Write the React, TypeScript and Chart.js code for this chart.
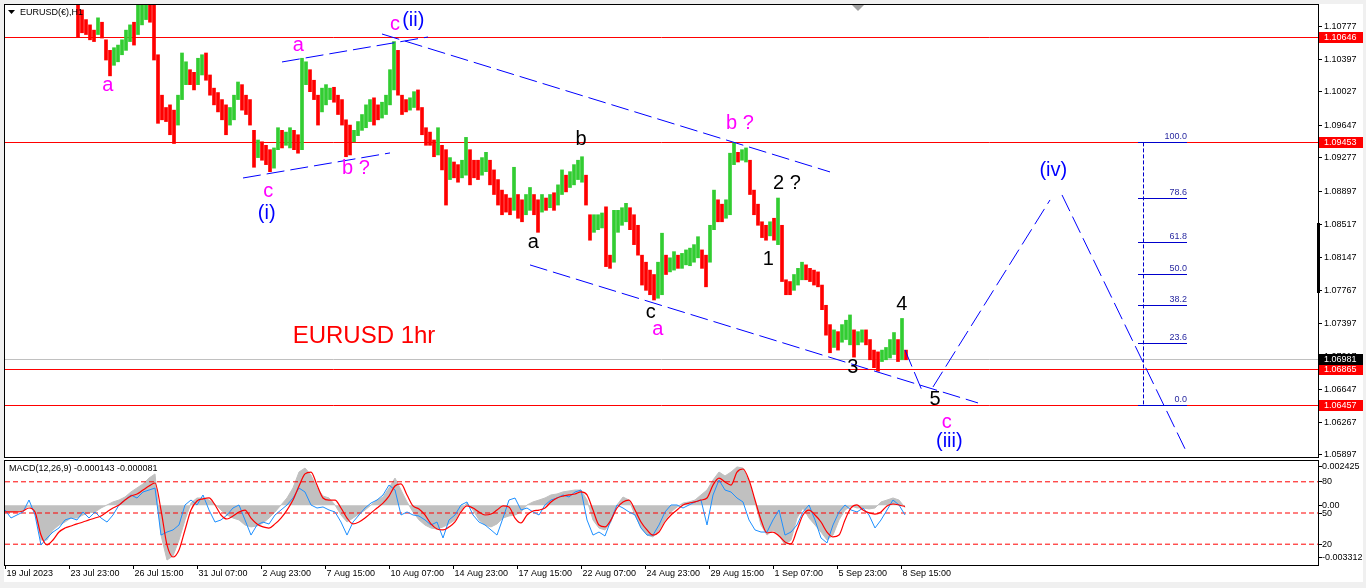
import React, { useEffect, useRef } from 'react';
import { Chart, registerables } from 'chart.js';

Chart.register(...registerables);

// ---------------- data ----------------
// time axis in hours (one hourly bar per hour on the chart)
const X_MAX_HOURS = 1313;
const DATE_TICK_STEP_HOURS = 64;
const DATE_LABELS = [
  '19 Jul 2023', '23 Jul 23:00', '26 Jul 15:00', '31 Jul 07:00', '2 Aug 23:00',
  '7 Aug 15:00', '10 Aug 07:00', '14 Aug 23:00', '17 Aug 15:00', '22 Aug 07:00',
  '24 Aug 23:00', '29 Aug 15:00', '1 Sep 07:00', '5 Sep 23:00', '8 Sep 15:00',
];

// price bars (4-hour steps), high and low
const BAR_START_HOUR = 73;
const BAR_STEP_HOURS = 4;
const BAR_HIGHS = [
  1.1107, 1.1096, 1.1085, 1.1079, 1.1073, 1.1087, 1.1082, 1.1062, 1.1050, 1.1053,
  1.1056, 1.1062, 1.1073, 1.1079, 1.1082, 1.1102, 1.1107, 1.1107, 1.1105, 1.1104,
  1.1045, 1.0999, 1.0985, 1.0988, 1.0982, 1.0999, 1.1047, 1.1037, 1.1028, 1.1025,
  1.1041, 1.1045, 1.1047, 1.1022, 1.1007, 1.1002, 1.0994, 1.0988, 1.0985, 1.0999,
  1.1014, 1.1011, 1.0999, 1.0994, 1.0959, 1.0948, 1.0946, 1.0942, 1.0937, 1.0939,
  1.0962, 1.0959, 1.0957, 1.0962, 1.0959, 1.0954, 1.1041, 1.1037, 1.1028, 1.1016,
  1.0999, 1.1007, 1.1011, 1.1007, 1.1008, 1.0999, 1.0994, 1.0971, 1.0965, 1.0959,
  1.0969, 1.0977, 1.0988, 1.0994, 1.0996, 1.0988, 1.0991, 1.0999, 1.1028, 1.1060,
  1.1050, 1.0999, 1.0994, 1.0996, 1.1003, 1.1005, 1.0985, 1.0962, 1.0957, 1.0948,
  1.0962, 1.0942, 1.0937, 1.0928, 1.0923, 1.0920, 1.0925, 1.0951, 1.0937, 1.0925,
  1.0925, 1.0928, 1.0934, 1.0925, 1.0914, 1.0903, 1.0891, 1.0886, 1.0882, 1.0917,
  1.0886, 1.0880, 1.0886, 1.0894, 1.0886, 1.0880, 1.0886, 1.0882, 1.0886, 1.0888,
  1.0897, 1.0914, 1.0908, 1.0912, 1.0920, 1.0925, 1.0929, 1.0908, 1.0863, 1.0863,
  1.0863, 1.0865, 1.0872, 1.0817, 1.0868, 1.0868, 1.0871, 1.0876, 1.0871, 1.0863,
  1.0851, 1.0817, 1.0809, 1.0800, 1.0795, 1.0809, 1.0842, 1.0817, 1.0814, 1.0821,
  1.0817, 1.0819, 1.0823, 1.0825, 1.0829, 1.0838, 1.0823, 1.0817, 1.0851, 1.0891,
  1.0880, 1.0875, 1.0880, 1.0933, 1.0945, 1.0934, 1.0937, 1.0939, 1.0925, 1.0891,
  1.0875, 1.0855, 1.0851, 1.0855, 1.0859, 1.0882, 1.0851, 1.0789, 1.0787, 1.0795,
  1.0802, 1.0809, 1.0806, 1.0802, 1.0800, 1.0798, 1.0783, 1.0760, 1.0738, 1.0732,
  1.0730, 1.0738, 1.0743, 1.0749, 1.0732, 1.0730, 1.0732, 1.0732, 1.0721, 1.0709,
  1.0707, 1.0709, 1.0712, 1.0721, 1.0729, 1.0721, 1.0745, 1.0709,
];
const BAR_LOWS = [
  1.1065, 1.1070, 1.1068, 1.1062, 1.1060, 1.1068, 1.1064, 1.1039, 1.1021, 1.1033,
  1.1037, 1.1045, 1.1050, 1.1060, 1.1056, 1.1068, 1.1079, 1.1085, 1.1082, 1.1039,
  1.0967, 1.0971, 1.0969, 1.0954, 1.0944, 1.0965, 1.0994, 1.1011, 1.1011, 1.1005,
  1.1011, 1.1022, 1.1016, 1.0999, 1.0988, 1.0980, 1.0971, 1.0954, 1.0965, 1.0971,
  1.0994, 1.0982, 1.0977, 1.0965, 1.0917, 1.0928, 1.0925, 1.0920, 1.0912, 1.0916,
  1.0937, 1.0939, 1.0942, 1.0939, 1.0937, 1.0933, 1.0937, 1.1011, 1.1003, 1.0994,
  1.0965, 1.0980, 1.0988, 1.0994, 1.0991, 1.0977, 1.0965, 1.0929, 1.0931, 1.0946,
  1.0953, 1.0959, 1.0962, 1.0969, 1.0965, 1.0971, 1.0973, 1.0977, 1.0988, 1.1005,
  1.0999, 1.0977, 1.0980, 1.0982, 1.0985, 1.0982, 1.0954, 1.0942, 1.0942, 1.0929,
  1.0931, 1.0914, 1.0874, 1.0903, 1.0905, 1.0900, 1.0905, 1.0908, 1.0897, 1.0905,
  1.0903, 1.0908, 1.0912, 1.0897, 1.0886, 1.0874, 1.0863, 1.0866, 1.0863, 1.0868,
  1.0859, 1.0855, 1.0863, 1.0868, 1.0863, 1.0843, 1.0866, 1.0868, 1.0871, 1.0868,
  1.0874, 1.0886, 1.0889, 1.0894, 1.0897, 1.0903, 1.0900, 1.0874, 1.0834, 1.0843,
  1.0846, 1.0848, 1.0804, 1.0802, 1.0809, 1.0843, 1.0851, 1.0855, 1.0846, 1.0829,
  1.0817, 1.0783, 1.0777, 1.0772, 1.0766, 1.0768, 1.0772, 1.0795, 1.0798, 1.0800,
  1.0802, 1.0802, 1.0806, 1.0805, 1.0809, 1.0814, 1.0802, 1.0781, 1.0809, 1.0846,
  1.0855, 1.0855, 1.0859, 1.0863, 1.0920, 1.0923, 1.0925, 1.0923, 1.0886, 1.0863,
  1.0851, 1.0837, 1.0834, 1.0839, 1.0834, 1.0829, 1.0787, 1.0772, 1.0772, 1.0777,
  1.0783, 1.0789, 1.0789, 1.0787, 1.0783, 1.0781, 1.0755, 1.0726, 1.0706, 1.0712,
  1.0709, 1.0718, 1.0721, 1.0715, 1.0701, 1.0715, 1.0718, 1.0715, 1.0698, 1.0689,
  1.0685, 1.0696, 1.0698, 1.0700, 1.0704, 1.0696, 1.0698, 1.0698,
];

const PRICE_MIN = 1.05874;
const PRICE_MAX = 1.11016;
const PRICE_TICKS = [
  1.10777, 1.10397, 1.10027, 1.09647, 1.09277, 1.08897, 1.08517,
  1.08147, 1.07767, 1.07397, 1.07017, 1.06647, 1.06267, 1.05897,
];
const RED_LEVELS = [1.10646, 1.09453, 1.06865, 1.06457];
const LAST_PRICE = 1.06981;

// Fibonacci retracement
const FIB_ZERO = 1.06457;
const FIB_HUNDRED = 1.09453;
const FIB_RATIOS = [0, 23.6, 38.2, 50.0, 61.8, 78.6, 100.0];
const FIB_FROM_HOUR = 1133;
const FIB_TO_HOUR = 1182;
const FIB_AXIS_HOUR = 1138;

// dashed trend / projection lines (hour, price)
const TREND_FROM_HOURS = [377, 525, 277, 238, 900, 928, 1057];
const TREND_FROM_PRICES = [1.10686, 1.08059, 1.10368, 1.09048, 1.07092, 1.06671, 1.08855];
const TREND_TO_HOURS = [825, 973, 423, 385, 918, 1045, 1182];
const TREND_TO_PRICES = [1.09117, 1.06489, 1.10652, 1.09333, 1.06603, 1.08798, 1.0592];

// wave labels
const MAG = '#FF00FF';
const WBLUE = '#0000FF';
const BLK = '#000000';
const WAVE_TEXTS = ['a', 'a', 'c', '(ii)', 'c', '(i)', 'b ?', 'b', 'a', 'c', 'a', 'b ?', '2 ?', '1', '4', '3', '5', 'c', '(iii)', '(iv)'];
const WAVE_COLORS = [MAG, MAG, MAG, WBLUE, MAG, WBLUE, MAG, BLK, BLK, BLK, MAG, MAG, BLK, BLK, BLK, BLK, BLK, MAG, WBLUE, WBLUE];
const WAVE_HOURS = [102.7, 293.3, 390, 408.3, 263.3, 261.7, 351, 576, 528.3, 645.7, 652.7, 735, 782, 763.3, 896.7, 847.7, 930, 941.7, 944.3, 1048.3];
const WAVE_PRICES = [1.10095, 1.10561, 1.10789, 1.10838, 1.08892, 1.08647, 1.09159, 1.09489, 1.08312, 1.07516, 1.07327, 1.09663, 1.0898, 1.08124, 1.07604, 1.06895, 1.06531, 1.06265, 1.06049, 1.09139];
const CAPTION = 'EURUSD 1hr';
const CAPTION_HOUR = 359;
const CAPTION_PRICE = 1.07251;
const SYMBOL_TITLE = 'EURUSD(€),H1';

// MACD pane (6-hour steps)
const MACD_STEP_HOURS = 6;
const MACD_LAST = -0.000143;
const SIGNAL_LAST = -0.000081;
const MACD_HIST = [
  -0.00036, -0.00042, -0.00036, -0.0003, -0.00004, -0.00042, -0.00218, -0.00218, -0.00155, -0.00124,
  -0.00105, -0.0008, -0.0008, -0.00061, -0.00048, -0.00042, -0.00017, 0.00002, 0.00021, 0.00033,
  0.00052, 0.00084, 0.00109, 0.00134, 0.00171, 0.00197, -0.00187, -0.00344, -0.00318, -0.00218,
  -0.00092, 0.00014, 0.00046, 0.00046, 0.00033, 0.00008, -0.0003, -0.00061, -0.0008, -0.00092,
  -0.00124, -0.00136, -0.0013, -0.00111, -0.0008, -0.00042, 0.00002, 0.00046, 0.00109, 0.00209,
  0.00234, 0.0019, 0.00109, 0.00058, 0.00046, 0.00002, -0.00061, -0.00105, -0.0008, -0.00055,
  -0.0003, 0.00002, 0.00033, 0.00052, 0.00109, 0.00171, 0.00096, 0.00021, -0.00042, -0.00092,
  -0.00124, -0.00143, -0.00149, -0.00136, -0.00117, -0.00092, -0.0003, 0.00014, -0.0003, -0.00092,
  -0.00124, -0.00136, -0.00117, -0.0008, -0.00067, -0.00061, -0.00042, 0.00002, 0.00021, 0.00033,
  0.00046, 0.00065, 0.00071, 0.00084, 0.0009, 0.00096, 0.00096, 0.00033, -0.00092, -0.00143,
  -0.00155, -0.00105, 0.00002, 0.00052, 0.00033, -0.00061, -0.00143, -0.00187, -0.00199, -0.00155,
  -0.00092, -0.00042, -0.00011, 0.00014, 0.00021, 0.00033, 0.00065, 0.00096, 0.00159, 0.00209,
  0.00184, 0.00209, 0.00241, 0.00234, 0.00146, 0.00021, -0.00124, -0.00187, -0.00155, -0.00187,
  -0.00249, -0.00218, -0.0008, -0.00017, -0.0008, -0.00124, -0.00168, -0.00218, -0.00187, -0.00092,
  -0.0003, -0.00004, -0.00017, -0.00017, -0.00023, -0.00017, 0.00021, 0.00033, 0.00046, 0.00033,
  MACD_LAST,
];
const MACD_SIGNAL = [
  -0.00042, -0.00042, -0.00042, -0.00036, -0.00017, -0.00042, -0.00187, -0.00249, -0.00218, -0.00168,
  -0.00143, -0.0013, -0.00117, -0.00105, -0.00092, -0.0008, -0.00067, -0.00042, -0.00017, 0.00002,
  0.00033, 0.00058, 0.00071, 0.00096, 0.00121, 0.0014, -0.0003, -0.00249, -0.00325, -0.00281,
  -0.00155, -0.0003, 0.00027, 0.0004, 0.00046, 0.00002, -0.00061, -0.00086, -0.00067, -0.00042,
  -0.0003, -0.0008, -0.00117, -0.00136, -0.00143, -0.00117, -0.0008, -0.0003, 0.00033, 0.00121,
  0.00197, 0.00209, 0.00127, 0.00046, 0.00033, 0.00033, -0.00017, -0.0008, -0.00117, -0.00105,
  -0.0008, -0.00048, -0.00017, 0.00014, 0.00058, 0.00121, 0.00134, 0.00065, -0.00004, -0.00023,
  -0.00061, -0.00117, -0.00149, -0.00155, -0.00136, -0.00105, -0.00042, -0.00004, -0.00017, -0.00042,
  -0.00061, -0.00055, -0.0003, -0.00004, -0.00011, -0.0008, -0.00111, -0.00061, -0.00036, -0.0003,
  -0.00017, 0.00021, 0.00046, 0.00058, 0.00065, 0.00071, 0.00084, 0.00065, -0.0003, -0.00124,
  -0.00136, -0.00092, -0.00017, 0.00021, 0.00033, -0.0003, -0.00105, -0.00155, -0.00187, -0.00168,
  -0.00105, -0.00061, -0.0003, 0.00002, 0.00014, 0.00021, 0.00033, 0.00046, 0.00127, 0.00171,
  0.00146, 0.00127, 0.00209, 0.00228, 0.00159, 0.00033, -0.00092, -0.00174, -0.00168, -0.00193,
  -0.0023, -0.00243, -0.00155, -0.00061, -0.0003, -0.00061, -0.00105, -0.00168, -0.00199, -0.00187,
  -0.00092, -0.00017, 0.00002, -0.0003, -0.00048, -0.00055, -0.00042, -0.00004, 0.00008, 0.00002,
  SIGNAL_LAST,
];
const OSC_LINE = [
  52.9, 45.2, 48.1, 51.0, 62.5, 48.1, 19.2, 26.0, 31.7, 35.6,
  43.3, 45.2, 43.3, 51.0, 45.2, 51.0, 45.2, 41.3, 48.1, 57.7,
  62.5, 67.3, 64.4, 70.2, 72.1, 74.0, 28.8, 31.7, 33.7, 38.5,
  57.7, 62.5, 57.7, 67.3, 52.9, 41.3, 43.3, 48.1, 54.8, 57.7,
  43.3, 28.8, 38.5, 41.3, 39.4, 48.1, 52.9, 57.7, 64.4, 74.0,
  70.2, 57.7, 54.8, 55.8, 52.9, 51.0, 41.3, 28.8, 41.3, 48.1,
  54.8, 59.6, 62.5, 67.3, 76.9, 72.1, 48.1, 51.0, 48.1, 47.1,
  43.3, 38.5, 41.3, 26.0, 43.3, 48.1, 57.7, 60.6, 48.1, 41.3,
  38.5, 33.7, 28.8, 45.2, 62.5, 64.4, 52.9, 54.8, 51.0, 48.1,
  57.7, 62.5, 64.4, 67.3, 65.4, 70.2, 72.1, 43.3, 28.8, 31.7,
  27.9, 43.3, 57.7, 54.8, 51.0, 48.1, 35.6, 28.8, 28.8, 38.5,
  51.0, 57.7, 57.7, 54.8, 57.7, 60.6, 62.5, 38.5, 67.3, 81.7,
  72.1, 70.2, 64.4, 60.6, 43.3, 33.7, 31.7, 31.7, 43.3, 52.9,
  28.8, 31.7, 38.5, 51.0, 57.7, 43.3, 26.0, 21.2, 38.5, 51.0,
  57.7, 52.9, 51.0, 54.8, 48.1, 35.6, 43.3, 52.9, 62.5, 57.7, 48.1,
];
const OSC_LEVELS = [80, 50, 20];
const MACD_MIN = -0.003752;
const MACD_MAX = 0.002783;
const MACD_SCALE_LABELS = [0.002425, 0, -0.003312];

// ---------------- styling ----------------
const FONT_AXIS = '9px "Liberation Sans", Arial, sans-serif';
const FONT_WAVE = '20px "Liberation Sans", Arial, sans-serif';
const FONT_CAPTION = '24px "Liberation Sans", Arial, sans-serif';
const FONT_FIB = '9px "Liberation Sans", Arial, sans-serif';
const UP = '#32CD32';
const DOWN = '#FF0000';
const PAGE_W = 1366;
const MAIN_H = 459;
const SUB_H = 129;
const PANEL_RIGHT = 1363;

function hline(ctx: any, x1: number, x2: number, y: number) {
  ctx.beginPath();
  ctx.moveTo(x1, y);
  ctx.lineTo(x2, y);
  ctx.stroke();
}
function vline(ctx: any, x: number, y1: number, y2: number) {
  ctx.beginPath();
  ctx.moveTo(x, y1);
  ctx.lineTo(x, y2);
  ctx.stroke();
}
const crisp = (v: number) => Math.floor(v) + 0.5;

const mainPlugin = {
  id: 'mt4main',
  beforeDraw(chart: any) {
    const ctx = chart.ctx;
    ctx.save();
    ctx.fillStyle = '#F0F0F0';
    ctx.fillRect(0, 0, chart.width, chart.height);
    ctx.fillStyle = '#FFFFFF';
    ctx.fillRect(4, 4, PANEL_RIGHT - 4, chart.height - 4);
    ctx.restore();
  },
  beforeDatasetsDraw(chart: any) {
    const { ctx, chartArea: a } = chart;
    const xs = chart.scales.x;
    const ys = chart.scales.y;
    ctx.save();
    ctx.beginPath();
    ctx.rect(a.left, a.top, a.right - a.left, a.bottom - a.top);
    ctx.clip();
    ctx.lineWidth = 1;
    ctx.strokeStyle = '#C0C0C0';
    hline(ctx, a.left, a.right, crisp(ys.getPixelForValue(LAST_PRICE)));
    ctx.strokeStyle = '#FF0000';
    RED_LEVELS.forEach((v) => hline(ctx, a.left, a.right, crisp(ys.getPixelForValue(v))));
    // fibonacci
    const fx1 = xs.getPixelForValue(FIB_FROM_HOUR);
    const fx2 = xs.getPixelForValue(FIB_TO_HOUR);
    ctx.strokeStyle = '#0000CC';
    ctx.fillStyle = '#2828A0';
    ctx.font = FONT_FIB;
    ctx.textAlign = 'right';
    ctx.textBaseline = 'bottom';
    FIB_RATIOS.forEach((r) => {
      const price = FIB_ZERO + ((FIB_HUNDRED - FIB_ZERO) * r) / 100;
      const py = crisp(ys.getPixelForValue(price));
      hline(ctx, fx1, fx2, py);
      ctx.fillText(r.toFixed(1), fx2, py - 1);
    });
    ctx.setLineDash([4, 2]);
    vline(ctx, crisp(xs.getPixelForValue(FIB_AXIS_HOUR)), ys.getPixelForValue(FIB_HUNDRED), ys.getPixelForValue(FIB_ZERO));
    ctx.setLineDash([]);
    ctx.restore();
  },
  afterDatasetsDraw(chart: any) {
    const { ctx, chartArea: a } = chart;
    const xs = chart.scales.x;
    const ys = chart.scales.y;
    ctx.save();
    // wave labels
    ctx.textAlign = 'center';
    ctx.textBaseline = 'middle';
    ctx.font = FONT_WAVE;
    WAVE_TEXTS.forEach((t, i) => {
      ctx.fillStyle = WAVE_COLORS[i];
      ctx.fillText(t, xs.getPixelForValue(WAVE_HOURS[i]), ys.getPixelForValue(WAVE_PRICES[i]));
    });
    ctx.font = FONT_CAPTION;
    ctx.fillStyle = '#FF0000';
    ctx.fillText(CAPTION, xs.getPixelForValue(CAPTION_HOUR), ys.getPixelForValue(CAPTION_PRICE));

    // frame
    ctx.strokeStyle = '#000000';
    ctx.lineWidth = 1;
    ctx.strokeRect(a.left - 0.5, a.top - 0.5, a.right - a.left + 1, a.bottom - a.top + 1);

    // price axis
    ctx.font = FONT_AXIS;
    ctx.textAlign = 'left';
    ctx.textBaseline = 'middle';
    ctx.fillStyle = '#000000';
    PRICE_TICKS.forEach((v) => {
      const py = crisp(ys.getPixelForValue(v));
      hline(ctx, a.right + 1, a.right + 4, py);
      ctx.fillText(v.toFixed(5), a.right + 6, py);
    });
    const box = (v: number, bg: string) => {
      const py = Math.floor(ys.getPixelForValue(v));
      ctx.fillStyle = bg;
      ctx.fillRect(a.right + 1, py - 5, 44, 11);
      ctx.fillStyle = '#FFFFFF';
      ctx.fillText(v.toFixed(5), a.right + 6, py + 0.5);
    };
    RED_LEVELS.forEach((v) => box(v, '#FF0000'));
    box(LAST_PRICE, '#000000');
    // scale marker on axis
    ctx.fillStyle = '#000000';
    ctx.fillRect(a.right - 1, 223, 3, 70);

    // symbol title
    ctx.beginPath();
    ctx.moveTo(8, 10);
    ctx.lineTo(15, 10);
    ctx.lineTo(11.5, 14);
    ctx.closePath();
    ctx.fill();
    ctx.fillText(SYMBOL_TITLE, 20, 13);
    // shift marker
    ctx.fillStyle = '#A0A0A0';
    ctx.beginPath();
    ctx.moveTo(852, 5);
    ctx.lineTo(864, 5);
    ctx.lineTo(858, 11);
    ctx.closePath();
    ctx.fill();
    ctx.restore();
  },
};

const subPlugin = {
  id: 'mt4sub',
  beforeDraw(chart: any) {
    const ctx = chart.ctx;
    ctx.save();
    ctx.fillStyle = '#F0F0F0';
    ctx.fillRect(0, 0, chart.width, chart.height);
    ctx.fillStyle = '#FFFFFF';
    ctx.fillRect(4, 0, PANEL_RIGHT - 4, 123);
    ctx.restore();
  },
  afterDatasetsDraw(chart: any) {
    const { ctx, chartArea: a } = chart;
    const xs = chart.scales.x;
    const ys = chart.scales.y;
    const y2 = chart.scales.y2;
    ctx.save();
    ctx.strokeStyle = '#000000';
    ctx.lineWidth = 1;
    ctx.strokeRect(a.left - 0.5, a.top - 0.5, a.right - a.left + 1, a.bottom - a.top + 1);
    ctx.font = FONT_AXIS;
    ctx.fillStyle = '#000000';
    ctx.textAlign = 'left';
    ctx.textBaseline = 'middle';
    // title
    ctx.fillText(`MACD(12,26,9) ${MACD_LAST.toFixed(6)} ${SIGNAL_LAST.toFixed(6)}`, 9, 10);
    // right labels
    MACD_SCALE_LABELS.forEach((v) => {
      const py = crisp(ys.getPixelForValue(v));
      hline(ctx, a.right + 1, a.right + 4, py);
      ctx.fillText(v === 0 ? '0.00' : v.toFixed(6), a.right + 4, py);
    });
    OSC_LEVELS.forEach((v) => {
      const py = crisp(y2.getPixelForValue(v));
      hline(ctx, a.right + 1, a.right + 4, py);
      ctx.fillText(String(v), a.right + 4, py);
    });
    // date axis
    DATE_LABELS.forEach((label, k) => {
      const px = crisp(xs.getPixelForValue(k * DATE_TICK_STEP_HOURS));
      vline(ctx, px, a.bottom + 1, a.bottom + 4);
      ctx.fillText(label, px + 1, a.bottom + 9);
    });
    ctx.restore();
  },
};

function mainConfig(): any {
  const bars = BAR_HIGHS.map((h, i) => ({ x: BAR_START_HOUR + BAR_STEP_HOURS * i, y: [BAR_LOWS[i], h] }));
  const colors = BAR_HIGHS.map((h, i) =>
    i === 0 ? DOWN : h + BAR_LOWS[i] >= BAR_HIGHS[i - 1] + BAR_LOWS[i - 1] ? UP : DOWN,
  );
  const trendSets = TREND_FROM_HOURS.map((h, i) => ({
    type: 'line',
    data: [
      { x: h, y: TREND_FROM_PRICES[i] },
      { x: TREND_TO_HOURS[i], y: TREND_TO_PRICES[i] },
    ],
    borderColor: '#0000FF',
    borderWidth: 1,
    borderDash: [18, 6],
    pointRadius: 0,
    fill: false,
    order: 0,
  }));
  return {
    type: 'bar',
    data: {
      datasets: [
        {
          type: 'bar',
          data: bars,
          backgroundColor: colors,
          borderWidth: 0,
          barThickness: 3,
          grouped: false,
          order: 1,
        },
        ...trendSets,
      ],
    },
    options: {
      responsive: false,
      animation: false,
      events: [],
      layout: { padding: { left: 5, top: 5, right: PAGE_W - 1318, bottom: MAIN_H - 457 } },
      plugins: { legend: { display: false }, tooltip: { enabled: false } },
      scales: {
        x: { type: 'linear', min: 0, max: X_MAX_HOURS, display: false, offset: false, grid: { offset: false } },
        y: { type: 'linear', min: PRICE_MIN, max: PRICE_MAX, display: false },
      },
    },
    plugins: [mainPlugin],
  };
}

function subConfig(): any {
  const pts = (arr: number[]) => arr.map((v, i) => ({ x: i * MACD_STEP_HOURS, y: v }));
  const levelSets = OSC_LEVELS.map((v) => ({
    data: [
      { x: 0, y: v },
      { x: X_MAX_HOURS, y: v },
    ],
    yAxisID: 'y2',
    borderColor: '#FF0000',
    borderWidth: 1,
    borderDash: [5, 3],
    pointRadius: 0,
    fill: false,
    order: 3,
  }));
  return {
    type: 'line',
    data: {
      datasets: [
        {
          data: pts(MACD_HIST),
          yAxisID: 'y',
          borderColor: '#C0C0C0',
          backgroundColor: '#C0C0C0',
          borderWidth: 1,
          pointRadius: 0,
          fill: 'origin',
          order: 5,
        },
        ...levelSets,
        {
          data: pts(OSC_LINE),
          yAxisID: 'y2',
          borderColor: '#1E90FF',
          borderWidth: 1,
          pointRadius: 0,
          fill: false,
          order: 2,
        },
        {
          data: pts(MACD_SIGNAL),
          yAxisID: 'y',
          borderColor: '#FF0000',
          borderWidth: 1.2,
          pointRadius: 0,
          fill: false,
          cubicInterpolationMode: 'monotone',
          order: 1,
        },
      ],
    },
    options: {
      responsive: false,
      animation: false,
      events: [],
      layout: { padding: { left: 5, top: 2, right: PAGE_W - 1318, bottom: SUB_H - 106 } },
      plugins: { legend: { display: false }, tooltip: { enabled: false } },
      scales: {
        x: { type: 'linear', min: 0, max: X_MAX_HOURS, display: false, offset: false },
        y: { type: 'linear', min: MACD_MIN, max: MACD_MAX, display: false },
        y2: { type: 'linear', min: 0, max: 100, display: false },
      },
    },
    plugins: [subPlugin],
  };
}

export default function App() {
  const mainRef = useRef<HTMLCanvasElement>(null);
  const subRef = useRef<HTMLCanvasElement>(null);
  useEffect(() => {
    const main = new Chart(mainRef.current as HTMLCanvasElement, mainConfig());
    const sub = new Chart(subRef.current as HTMLCanvasElement, subConfig());
    return () => {
      main.destroy();
      sub.destroy();
    };
  }, []);
  return (
    <div style={{ position: 'absolute', left: 0, top: 0, width: PAGE_W, height: MAIN_H + SUB_H, background: '#F0F0F0', overflow: 'hidden' }}>
      <canvas ref={mainRef} width={PAGE_W} height={MAIN_H} style={{ position: 'absolute', left: 0, top: 0, width: PAGE_W, height: MAIN_H }} />
      <canvas ref={subRef} width={PAGE_W} height={SUB_H} style={{ position: 'absolute', left: 0, top: MAIN_H, width: PAGE_W, height: SUB_H }} />
    </div>
  );
}
